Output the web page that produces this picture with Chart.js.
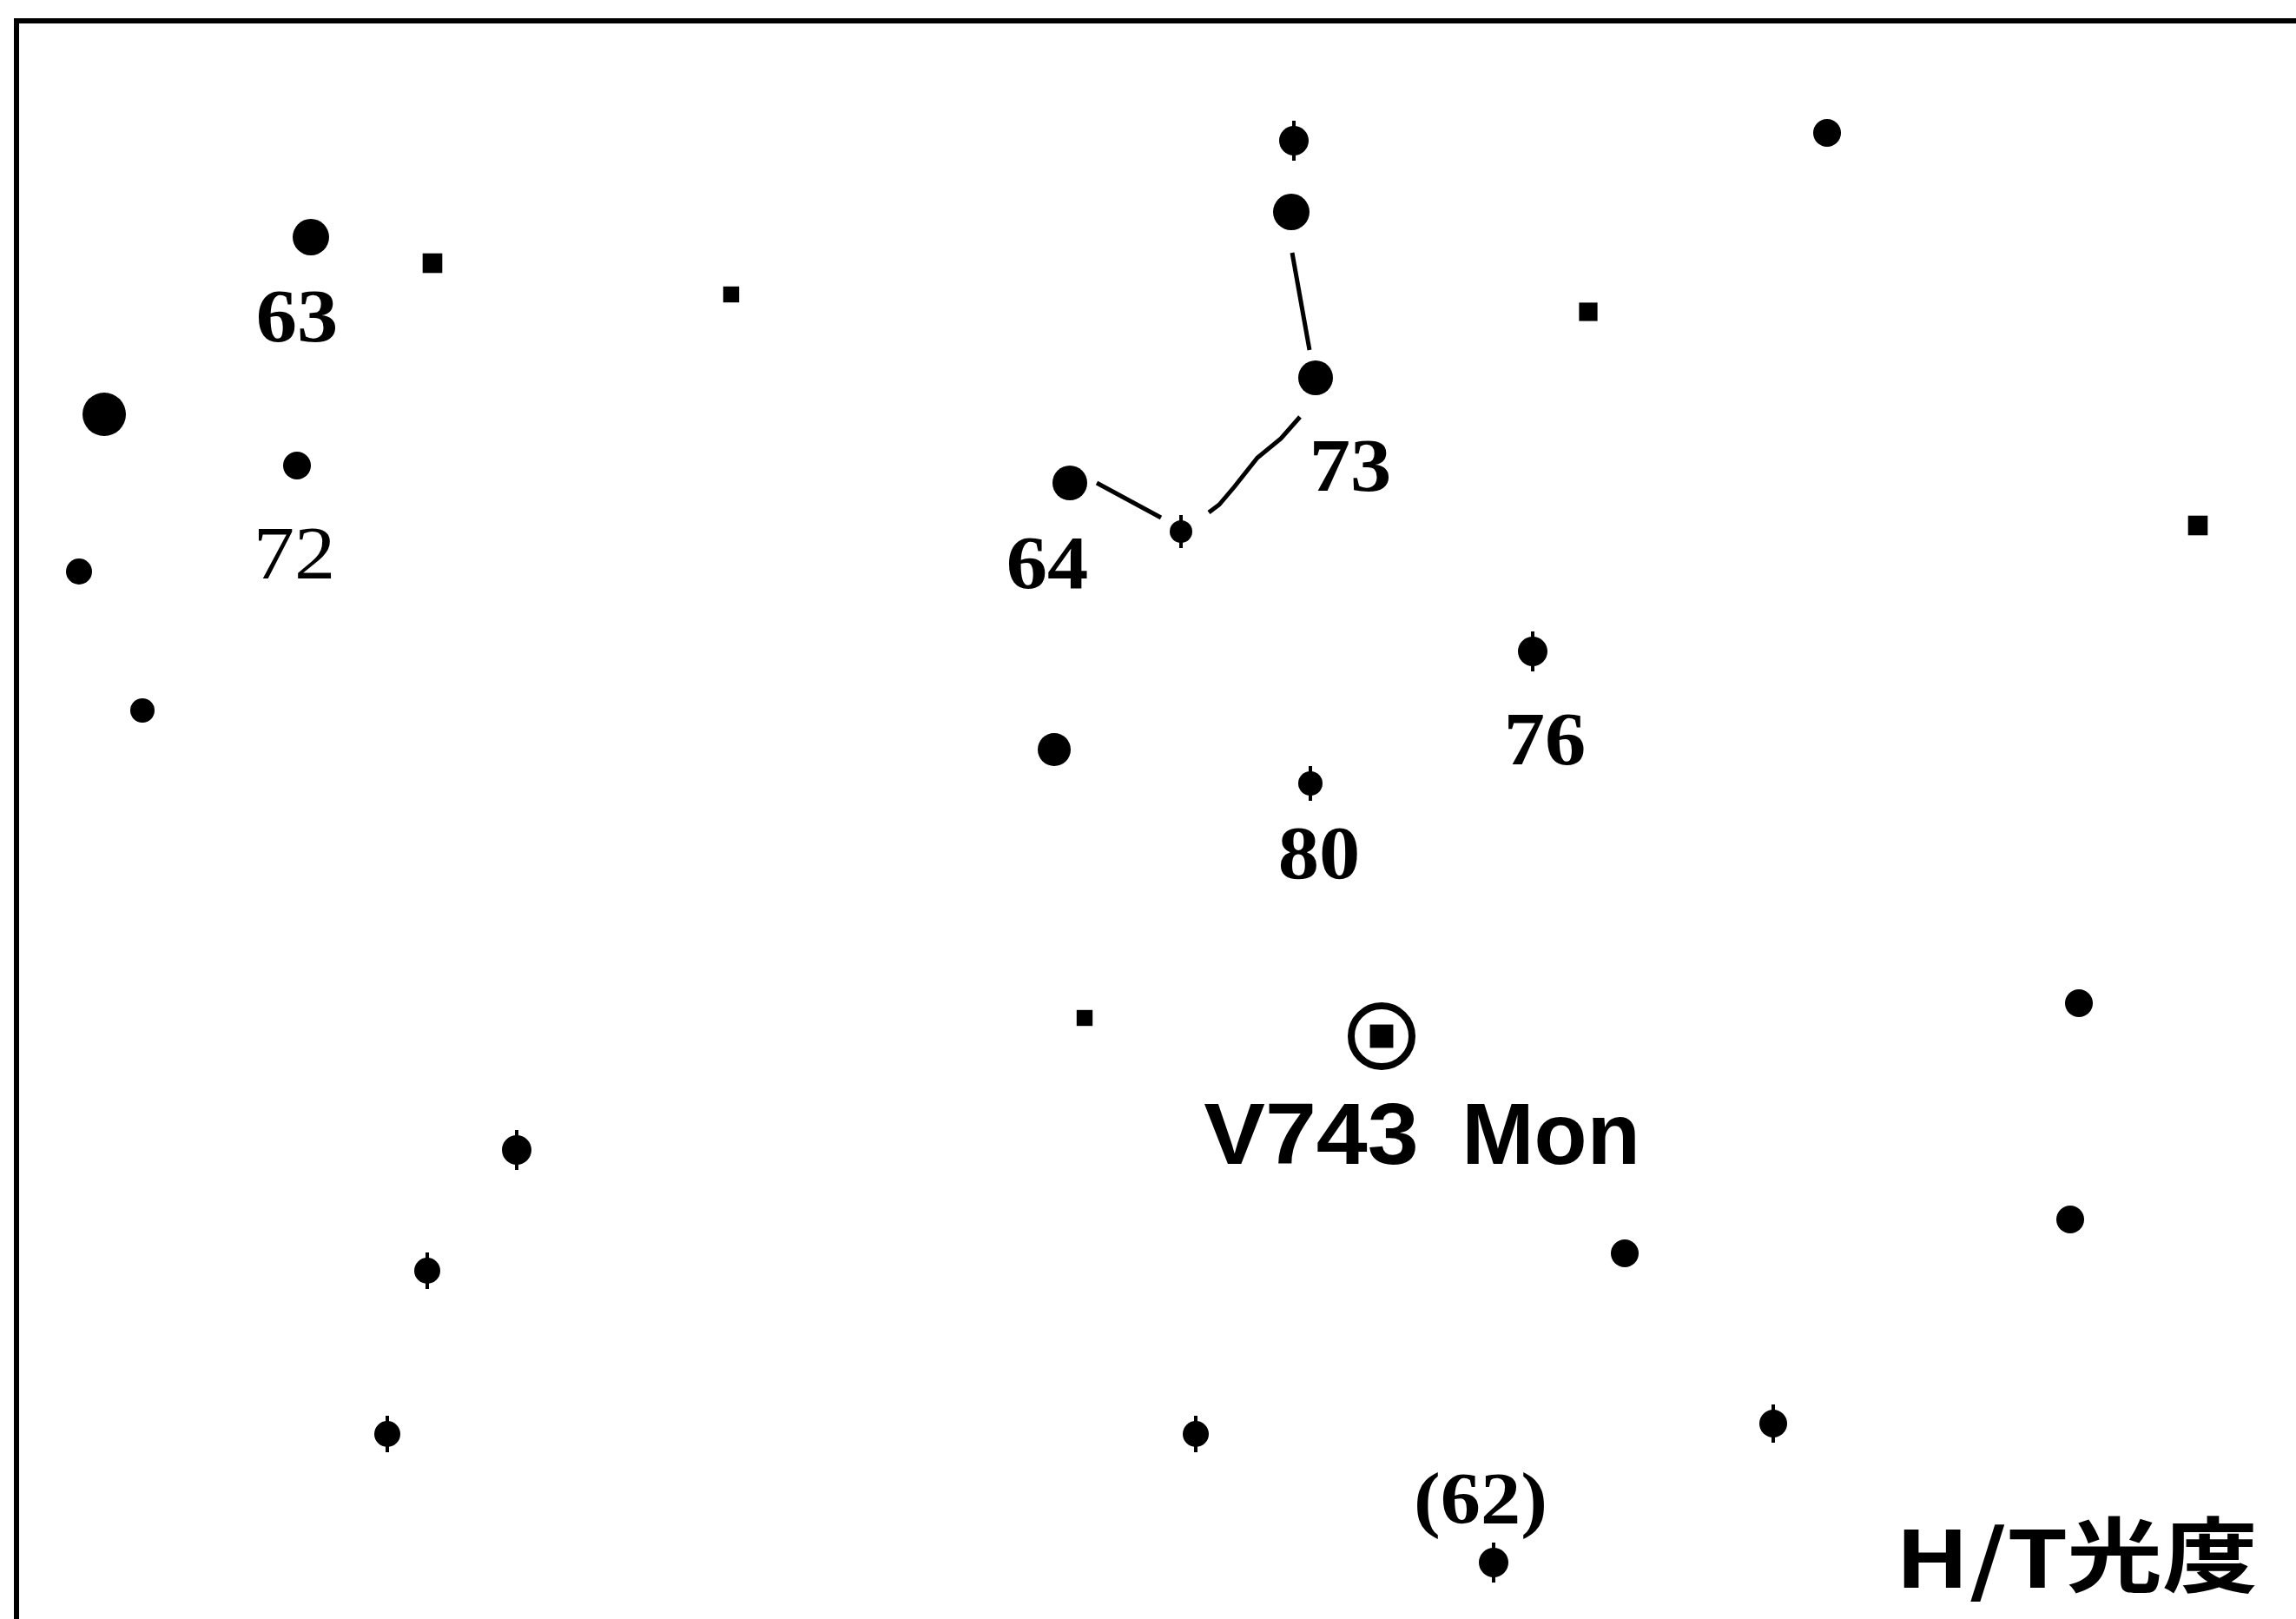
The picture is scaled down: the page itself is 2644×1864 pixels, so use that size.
<!DOCTYPE html>
<html>
<head>
<meta charset="utf-8">
<script src="https://cdn.jsdelivr.net/npm/chart.js@4.4.1/dist/chart.umd.min.js"></script>
<style>
  html, body { margin: 0; padding: 0; background: #fff; overflow: hidden; }
  canvas { display: block; }
</style>
</head>
<body>
<canvas id="chart" width="2644" height="1864"></canvas>
<script>
// chart coordinates: x to the right, y downward (0..2644 x 0..1864)
const dotX = [358, 120, 342, 91, 164, 1490, 1487, 1515, 1232, 1360, 2104, 1765, 1214, 1509, 2394, 595, 492, 1871, 2384, 446, 1377, 2042, 1720];
const dotY = [273, 477, 536, 658, 818, 162, 244, 435, 556, 612, 153, 750, 863, 902, 1155, 1324, 1463, 1443, 1404, 1651, 1651, 1639, 1799];

const faintX = [498, 842, 1829, 2531, 1249];
const faintY = [303, 339, 359, 605, 1172];

const variableX = [1591];
const variableY = [1193];

const linkIJ = [[1488, 291], [1508, 403]];
const linkJL = [[1497, 480], [1475, 505], [1448, 527], [1421, 561], [1404, 581], [1392, 590]];
const linkKL = [[1263, 556], [1337, 596]];

const frameX = [19, 19, 2644];
const frameY = [1864, 24, 24];

const labelText = ['63', '72', '73', '64', '76', '80', '(62)', 'V743', 'Mon', 'H/T', '光度'];
const labelX = [342, 339, 1555, 1206, 1779, 1519, 1705, 1510, 1786, 2282, 2490];
const labelY = [393, 666, 565, 677, 880, 1011, 1754, 1340, 1340, 1828, 1826];

// styles
const dotSize = [21, 25, 16, 15, 14, 17, 21, 20, 20, 13, 16, 17, 19, 14, 16, 17, 15, 16, 16, 15, 15, 16, 17];
const faintSize = [16, 13, 15, 16, 13];
const spikeIdx = [5, 9, 11, 13, 15, 16, 19, 20, 21, 22];
const labelFont = [
  { font: 'bold 86px "Liberation Serif"', sx: 1.1 },
  { font: '86px "Liberation Serif"', sx: 1.1 },
  { font: 'bold 86px "Liberation Serif"', sx: 1.1 },
  { font: 'bold 86px "Liberation Serif"', sx: 1.1 },
  { font: 'bold 86px "Liberation Serif"', sx: 1.1 },
  { font: 'bold 86px "Liberation Serif"', sx: 1.1 },
  { font: 'bold 84px "Liberation Serif"', sx: 1.1 },
  { font: 'bold 100px "Liberation Sans"', sx: 1.06 },
  { font: 'bold 100px "Liberation Sans"', sx: 1.0 },
  { font: 'bold 90px "Noto Sans CJK JP"', sx: 1.25 },
  { font: 'bold 94px "Noto Sans CJK JP"', sx: 1.17 }
];

const pts = (xs, ys) => xs.map((x, i) => ({ x: x, y: ys[i] }));
const pairs = arr => arr.map(p => ({ x: p[0], y: p[1] }));

const lineSet = (data, w) => ({
  data: data,
  showLine: true,
  borderColor: '#000',
  borderWidth: w,
  pointRadius: 0,
  clip: false,
  order: 5
});

const labelPlugin = {
  id: 'labels',
  afterDatasetsDraw(chart) {
    const ctx = chart.ctx;
    const sx = chart.scales.x, sy = chart.scales.y;
    ctx.save();
    ctx.fillStyle = '#000';
    ctx.textAlign = 'center';
    ctx.textBaseline = 'alphabetic';
    labelText.forEach((t, i) => {
      const st = labelFont[i];
      const px = sx.getPixelForValue(labelX[i]);
      const py = sy.getPixelForValue(labelY[i]);
      ctx.save();
      ctx.translate(px, py);
      ctx.scale(st.sx, 1);
      ctx.font = st.font;
      ctx.fillText(t, 0, 0);
      ctx.restore();
    });
    ctx.restore();
  }
};

new Chart(document.getElementById('chart'), {
  type: 'scatter',
  data: {
    datasets: [
      lineSet(pts(frameX, frameY), 6),
      lineSet(pairs(linkIJ), 5),
      lineSet(pairs(linkJL), 5),
      lineSet(pairs(linkKL), 5),
      {
        data: pts(dotX, dotY),
        pointStyle: 'circle',
        pointRadius: dotSize,
        backgroundColor: '#000',
        borderWidth: 0,
        order: 3
      },
      {
        // thin vertical spikes of the plus-shaped star symbols
        data: spikeIdx.map(i => ({ x: dotX[i], y: dotY[i] })),
        pointStyle: 'line',
        rotation: 90,
        pointRadius: spikeIdx.map(i => dotSize[i] + 6),
        borderColor: '#000',
        borderWidth: 4,
        order: 3
      },
      {
        data: pts(faintX, faintY),
        pointStyle: 'rect',
        pointRadius: faintSize,
        backgroundColor: '#000',
        borderWidth: 0,
        order: 3
      },
      {
        data: pts(variableX, variableY),
        pointStyle: 'circle',
        pointRadius: 35,
        backgroundColor: '#fff',
        borderColor: '#000',
        borderWidth: 8,
        order: 2
      },
      {
        data: pts(variableX, variableY),
        pointStyle: 'rect',
        pointRadius: 19,
        backgroundColor: '#000',
        borderWidth: 0,
        order: 1
      }
    ]
  },
  options: {
    responsive: false,
    devicePixelRatio: 1,
    animation: false,
    layout: { padding: 0, autoPadding: false },
    plugins: { legend: { display: false }, tooltip: { enabled: false } },
    scales: {
      x: { type: 'linear', min: 0, max: 2644, display: false },
      y: { type: 'linear', min: 0, max: 1864, reverse: true, display: false }
    }
  },
  plugins: [labelPlugin]
});
</script>
</body>
</html>
